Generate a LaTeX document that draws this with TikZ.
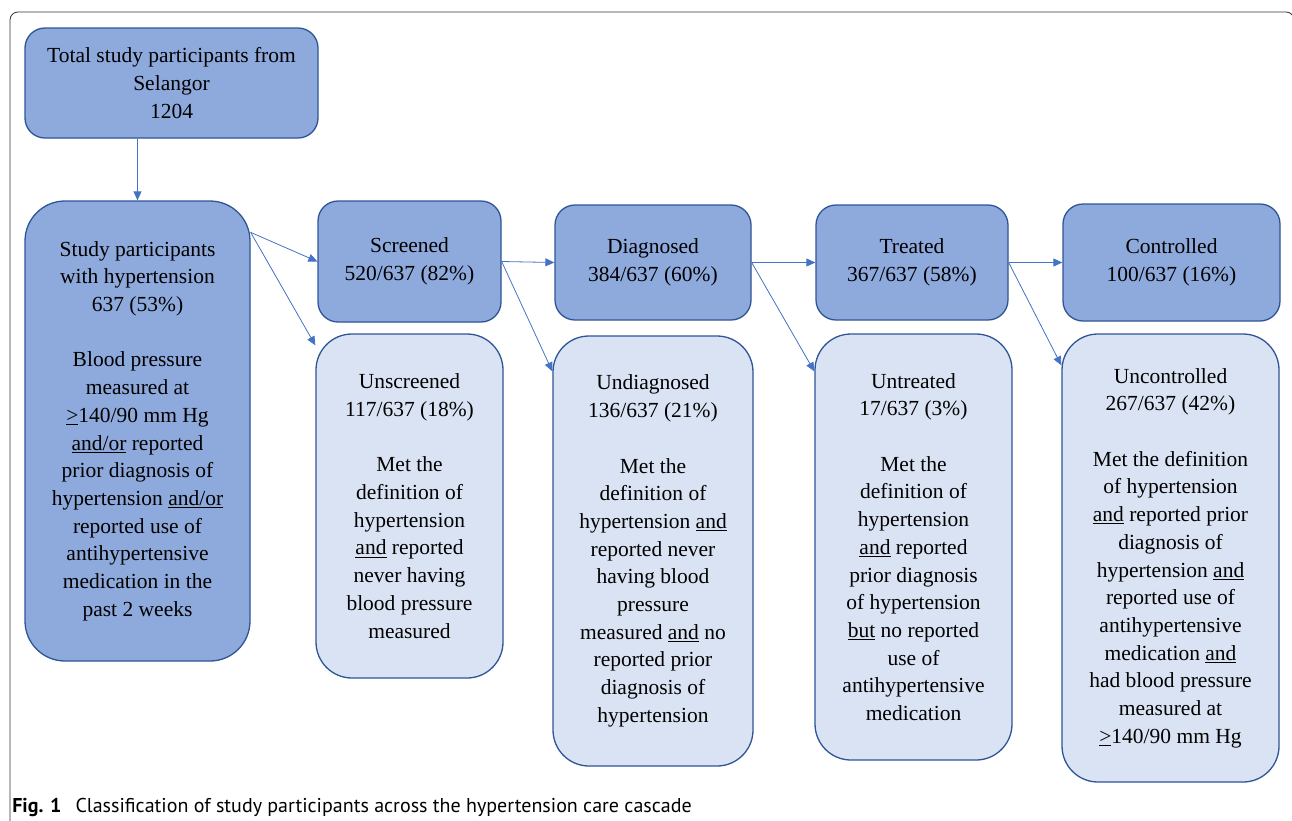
\documentclass[tikz,border=0pt]{standalone}
\usepackage{fontspec}
\setmainfont{Liberation Serif}
\newfontfamily\capfont{PT Sans}
\usepackage{xcolor}
\usetikzlibrary{arrows.meta}
\usetikzlibrary{calc}
\usetikzlibrary{positioning}
\definecolor{darkbox}{HTML}{8EA9DB}
\definecolor{lightbox}{HTML}{DAE3F3}
\definecolor{boxline}{HTML}{2F5597}
\definecolor{arrowblue}{HTML}{4472C4}
\newcommand{\ulin}[1]{\leavevmode\setbox0\hbox{#1}\rlap{\rule[-2.8pt]{\wd0}{1.1pt}}\box0\relax}

\begin{document}
\begin{tikzpicture}[x=1pt,y=-1pt,semithick]
	\tikzstyle{stage}=[draw=boxline, line width=1.3pt, fill=darkbox, rounded corners=20pt, align=center, inner sep=0pt, font=\fontsize{21.5}{27.7}\selectfont]
	\tikzstyle{gap}=[stage, fill=lightbox, rounded corners=36pt]
	\tikzstyle{flow}=[draw=arrowblue, line width=0.8pt, -{Triangle[length=9pt,width=8pt,fill=arrowblue]}]
	\useasboundingbox (0,0) rectangle (1292,820);
	\draw[black!80, line width=0.8pt, rounded corners=8pt] (10,830) -- (10,12) -- (1294,12) -- (1294,830);
		\node[stage, minimum width=293pt, minimum height=110pt] (total) at (171.5,83) {Total study participants from\\Selangor\\1204};
		\node[stage, rounded corners=40pt, minimum width=225pt, minimum height=460pt] (hyp) at (137.5,431) {Study participants\\with hypertension\\637 (53\%)\\[27.7pt]Blood pressure\\measured at\\\ulin{>}140/90 mm Hg\\\ulin{and/or} reported\\prior diagnosis of\\hypertension \ulin{and/or}\\reported use of\\antihypertensive\\medication in the\\past 2 weeks};
		\node[stage, minimum width=183pt, minimum height=121pt] (scr) at (409.5,261.5) {Screened\\520/637 (82\%)};
		\node[stage, minimum width=196pt, minimum height=115pt] (dia) at (653,262.5) {Diagnosed\\384/637 (60\%)};
		\node[stage, minimum width=192pt, minimum height=115pt] (trt) at (912,262.5) {Treated\\367/637 (58\%)};
		\node[stage, minimum width=217pt, minimum height=117pt] (ctl) at (1171.5,262.5) {Controlled\\100/637 (16\%)};
		\node[gap, minimum width=187pt, minimum height=344pt] (unscr) at (409.5,506) {Unscreened\\117/637 (18\%)\\[27.7pt]Met the\\definition of\\hypertension\\\ulin{and} reported\\never having\\blood pressure\\measured};
		\node[gap, minimum width=200pt, minimum height=430pt] (undia) at (653,551) {Undiagnosed\\136/637 (21\%)\\[27.7pt]Met the\\definition of\\hypertension \ulin{and}\\reported never\\having blood\\pressure\\measured \ulin{and} no\\reported prior\\diagnosis of\\hypertension};
		\node[gap, minimum width=197pt, minimum height=426pt] (untrt) at (913.5,547) {Untreated\\17/637 (3\%)\\[27.7pt]Met the\\definition of\\hypertension\\\ulin{and} reported\\prior diagnosis\\of hypertension\\\ulin{but} no reported\\use of\\antihypertensive\\medication};
		\node[gap, minimum width=217pt, minimum height=448pt] (unctl) at (1170.5,558) {Uncontrolled\\267/637 (42\%)\\[27.7pt]Met the definition\\of hypertension\\\ulin{and} reported prior\\diagnosis of\\hypertension \ulin{and}\\reported use of\\antihypertensive\\medication \ulin{and}\\had blood pressure\\measured at\\\ulin{>}140/90 mm Hg};
		\coordinate (hypout) at ($(hyp.north east)+(0,32)$);
		\node[anchor=base west, inner sep=0pt, font=\capfont\fontsize{20}{22}\selectfont] (caption) at (12,812) {\textbf{Fig. 1}\hspace{0.7em}Classification of study participants across the hypertension care cascade};
	\path
		(total.south -| hyp.north) edge[flow] (hyp.north)
		(hypout) edge[flow] (scr.west)
		(hypout) edge[flow] ([yshift=-12pt]unscr.north west)
		(scr.east) edge[flow] (dia.west)
		(scr.east) edge[flow] ([yshift=-36pt]undia.north west)
		(dia.east) edge[flow] (trt.west)
		(dia.east) edge[flow] ([yshift=-38pt]untrt.north west)
		(trt.east) edge[flow] (ctl.west)
		(trt.east) edge[flow] ([yshift=-32pt]unctl.north west);
\end{tikzpicture}
\end{document}
